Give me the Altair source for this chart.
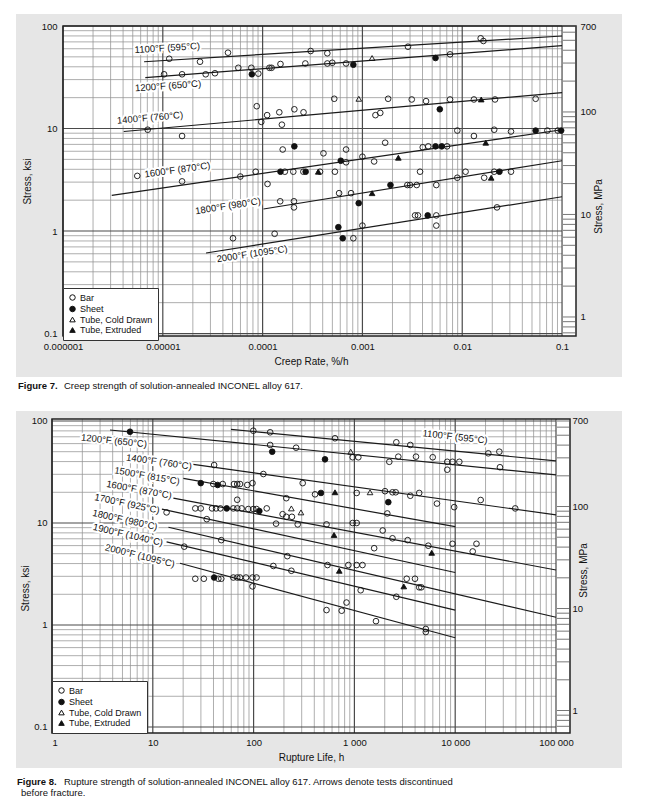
import math
import altair as alt
import pandas as pd

FONT = "Liberation Sans"
KSI_TO_MPA = 6.895
PANEL_GRAY = "#e6e6e6"

SPECIMEN_TYPES = ["Bar", "Sheet", "Tube, Cold Drawn", "Tube, Extruded"]
SPECIMEN_SHAPES = ["circle", "circle", "triangle-up", "triangle-up"]
SPECIMEN_FILLS = ["transparent", "#111111", "transparent", "#111111"]
SPECIMEN_STROKES = ["#111111", "#111111", "#111111", "#111111"]

# ---------------- Figure 7: creep rate (%/h) vs stress (ksi) ----------------
f7_bar = [
    (1.16e-5, 47.9), (2.36e-5, 44.8), (4.5e-5, 54.9), (3.03e-4, 57.0), (4.45e-4, 54.2),
    (2.86e-3, 62.8), (1.53e-2, 75.9), (1.63e-2, 71.4),
    (1.03e-5, 33.8), (1.56e-5, 33.8), (2.69e-5, 33.8), (3.33e-5, 34.6), (5.71e-5, 39.1),
    (7.71e-5, 39.1), (9.06e-5, 34.3), (1.17e-4, 39.1), (1.23e-4, 39.1), (1.51e-4, 42.6),
    (2.68e-4, 43.1), (4.45e-4, 43.1), (4.99e-4, 43.8), (6.86e-4, 43.1), (7.55e-3, 52.9),
    (7.06e-6, 9.73), (1.56e-5, 8.45), (8.73e-5, 16.5), (1.11e-4, 13.5), (9.7e-5, 11.6),
    (1.47e-4, 14.4), (1.56e-4, 10.9), (2.08e-4, 15.4), (2.57e-4, 14.4), (5.22e-4, 19.5),
    (1.81e-3, 19.5), (3.12e-3, 19.2), (4.34e-3, 18.5), (7.55e-3, 19.2), (1.31e-2, 19.2),
    (2.13e-2, 19.2), (5.44e-2, 19.5), (1.35e-3, 13.5), (1.51e-3, 14.2),
    (4.07e-4, 5.73), (1.59e-4, 6.24), (6.86e-4, 4.68), (6.86e-4, 6.24), (1.0e-3, 5.31),
    (1.31e-3, 4.77), (1.69e-3, 7.27), (4.02e-3, 6.56), (4.57e-3, 6.7), (7.05e-3, 6.7),
    (8.93e-3, 9.55), (1.31e-2, 8.45), (2.09e-2, 9.73), (3.08e-2, 9.35), (7.13e-2, 9.55),
    (9.06e-2, 9.55),
    (5.55e-6, 3.45), (1.56e-5, 3.05), (5.98e-5, 3.40), (8.53e-5, 3.79), (1.12e-4, 2.88),
    (1.67e-4, 3.79), (2.03e-4, 3.79), (2.56e-4, 3.79), (3.76e-4, 3.79), (5.3e-4, 3.79),
    (3.78e-3, 3.79),
    (1.50e-4, 1.95), (2.06e-4, 1.95), (2.06e-4, 1.70), (5.84e-4, 2.34), (7.69e-4, 2.34),
    (2.82e-3, 2.81), (3.0e-3, 2.81), (3.5e-3, 2.81), (5.5e-3, 2.81), (8.93e-3, 3.31),
    (1.08e-2, 3.79), (1.66e-2, 3.31), (2.09e-2, 3.79), (3.08e-2, 3.79),
    (5.05e-5, 0.85), (1.32e-4, 0.94), (8.11e-4, 0.85), (1.0e-3, 1.13), (3.37e-3, 1.42),
    (3.6e-3, 1.42), (5.5e-3, 1.42), (5.5e-3, 1.13), (2.23e-2, 1.70),
]
f7_sheet = [
    (7.8e-5, 33.8), (8.11e-4, 41.9), (5.4e-3, 48.7), (5.96e-3, 15.4), (2.08e-4, 6.7),
    (6.07e-4, 4.85), (5.4e-3, 6.7), (6.24e-3, 6.7), (5.44e-2, 9.55), (9.8e-2, 9.55),
    (1.51e-4, 3.79), (2.7e-4, 3.79), (9.18e-4, 1.87), (1.91e-3, 2.81), (2.36e-2, 3.79),
    (5.74e-4, 1.09), (6.35e-4, 0.85), (4.51e-3, 1.42),
]
f7_tube_cold = [(1.25e-3, 48.7), (9.2e-4, 19.5)]
f7_tube_ext = [(1.55e-2, 19.2), (2.29e-3, 5.19), (1.72e-2, 7.27), (3.61e-4, 3.79),
               (1.25e-3, 2.34), (1.95e-2, 3.31)]

f7_temps = ["1100°F (595°C)", "1200°F (650°C)", "1400°F (760°C)",
            "1600°F (870°C)", "1800°F (980°C)", "2000°F (1095°C)"]
f7_line_x1 = [6.5e-6, 6.68e-6, 4.06e-6, 3.08e-6, 1.02e-4, 2.71e-5]
f7_line_y1 = [44.8, 31.3, 9.35, 2.23, 1.64, 0.61]
f7_line_x2 = [0.1, 0.1, 0.1, 0.1, 0.1, 0.1]
f7_line_y2 = [79.9, 64.3, 22.4, 9.73, 4.85, 2.16]
f7_label_x = [1.11e-5, 1.13e-5, 7.45e-6, 1.40e-5, 4.5e-5, 7.84e-5]
f7_label_y = [61.0, 26.0, 12.7, 3.94, 1.75, 0.597]
f7_label_angle = [356.5, 356, 355, 352, 351, 351.5]

# ---------------- Figure 8: rupture life (h) vs stress (ksi) ----------------
f8_bar = [
    (99.3, 80.3), (146, 77.5), (642, 67.7), (2606, 61.8), (3586, 58.2), (21300, 48.2),
    (27400, 50.0),
    (146, 58.2), (264, 54.7), (962, 44.1), (1094, 44.1), (2220, 39.8), (2727, 44.7),
    (4084, 44.7), (5984, 44.1), (8337, 39.8), (9403, 39.8), (10990, 39.8), (8337, 33.3),
    (27800, 35.2),
    (40.6, 37.0), (125, 30.2), (307, 24.6), (39.8, 24.1), (49.4, 24.1), (63.9, 24.1),
    (68.8, 24.1), (73.3, 24.1), (86.6, 23.6), (97.5, 24.6), (407, 19.1), (1054, 19.7),
    (2013, 20.5), (2388, 20.0), (2569, 20.0), (3586, 18.5), (4395, 19.7), (6593, 15.5),
    (9772, 14.3), (17900, 16.8), (39400, 13.9),
    (211, 17.5), (68.8, 16.9), (26.4, 13.9), (29.9, 13.9), (38.7, 13.9), (42.4, 13.9),
    (46.8, 13.9), (62.9, 13.9), (68.8, 13.9), (76.2, 13.9), (88.6, 13.7), (99.3, 13.7),
    (107, 13.7), (135, 13.9), (194, 12.2), (211, 11.5), (240, 11.5), (167, 9.85),
    (274, 9.69), (529, 9.69), (2120, 12.4), (13.7, 12.7), (34.3, 10.9),
    (962, 10.0), (1054, 10.0), (1910, 8.44), (2388, 7.08), (3378, 6.79), (5408, 5.99),
    (9403, 6.25), (16260, 6.25), (14920, 5.26), (1571, 5.66), (47.8, 6.79), (20.5, 5.86),
    (216, 4.73), (157, 3.79), (237, 3.40), (541, 3.87), (871, 3.87), (1054, 3.87),
    (1203, 3.87), (1154, 2.19), (2606, 1.89), (3302, 2.84), (3992, 2.84), (4395, 2.34),
    (4612, 2.34),
    (26.4, 2.84), (32.1, 2.84), (44.7, 2.84), (47.8, 2.84), (62.9, 2.92), (68.8, 2.92),
    (73.3, 2.92), (84.1, 2.92), (97.5, 2.92), (107, 2.92), (97.5, 2.39),
    (529, 1.40), (748, 1.38), (835, 1.66), (1637, 1.09), (5108, 0.914), (5108, 0.853),
]
f8_sheet = [(5.94, 78.5), (153, 50.0), (511, 42.1), (29.9, 24.6), (44.0, 23.6),
            (466, 19.7), (54.1, 13.9), (114, 13.1), (2170, 16.0), (40.6, 2.92)]
f8_tube_cold = [(237, 13.9), (295, 12.7), (919, 50.0), (1429, 20.0)]
f8_tube_ext = [(642, 20.0), (628, 7.63), (5848, 5.10), (708, 3.40), (3090, 2.39)]

f8_temps = ["1100°F (595°C)", "1200°F (650°C)", "1400°F (760°C)", "1500°F (815°C)",
            "1600°F (870°C)", "1700°F (925°C)", "1800°F (980°C)", "1900°F (1040°C)",
            "2000°F (1095°C)"]
f8_line_x1 = [59.7, 3.76, 25.2, 20.1, 16.0, 12.3, 14.3, 13.7, 18.6]
f8_line_y1 = [82.9, 81.6, 37.6, 27.4, 17.5, 13.7, 9.08, 6.54, 4.03]
f8_line_x2 = [1e5, 1e5, 1e5, 1e4, 1e5, 1e4, 1e5, 1e4, 1e4]
f8_line_y2 = [40.6, 29.6, 12.0, 9.2, 3.46, 3.27, 1.19, 1.40, 0.75]
f8_label_x = [9960, 4.12, 11.5, 8.76, 7.3, 5.55, 5.3, 5.68, 7.46]
f8_label_y = [69.7, 63.7, 39.6, 28.9, 21.1, 15.4, 10.7, 7.63, 4.75]
f8_label_angle = [6.5, 6, 8, 10, 10.5, 12, 12.5, 13, 14]

f7_x_labels = [1e-6, 1e-5, 1e-4, 1e-3, 1e-2, 1e-1]
f8_x_labels = [1, 10, 100, 1000, 10000, 100000]
ksi_labels = [0.1, 1, 10, 100]
mpa_labels = [1, 10, 100, 689.5]


def points_frame(bar, sheet, cold, ext):
    rows = []
    for name, pts in zip(SPECIMEN_TYPES, [bar, sheet, cold, ext]):
        for x, y in pts:
            rows.append({"x": x, "y": y, "type": name})
    return pd.DataFrame(rows)


def is_decade(v):
    lv = math.log10(v)
    return abs(round(lv) - lv) < 1e-9


def panel(p):
    W, H, X0 = p["W"], p["H"], p["x0"]
    xdom, ydom = p["xdom"], p["ydom"]
    xs = alt.Scale(type="log", domain=xdom, nice=False)
    ys = alt.Scale(type="log", domain=ydom, nice=False)
    ms = alt.Scale(type="log", domain=[ydom[0] * KSI_TO_MPA, ydom[1] * KSI_TO_MPA], nice=False)

    xaxis = alt.Axis(values=p["xlabels"], labelExpr=p["xexpr"], title=p["xtitle"],
                     ticks=False, domain=False, grid=False, labelFlush=p["flush"],
                     labelPadding=p["xlabpad"], titlePadding=p["xtitpad"], titleX=p["titleX"],
                     zindex=1)
    yaxis = alt.Axis(values=ksi_labels, labelExpr="format(datum.value, '~g')",
                     title="Stress, ksi", orient="left", ticks=False, domain=False,
                     grid=False, labelPadding=p["ylabpad"], titlePadding=p["ytitpad"],
                     titleY=p["ytitleY"], offset=-X0, zindex=1)
    maxis = alt.Axis(values=mpa_labels,
                     labelExpr="datum.value > 600 ? '700' : format(datum.value, 'd')",
                     title="Stress, MPa", orient="right", ticks=False, domain=False,
                     grid=False, labelPadding=p["mlabpad"], titlePadding=p["mtitpad"],
                     titleAngle=270, titleY=p["mtitleY"], zindex=1)

    def X(f):
        return alt.X(f, type="quantitative", scale=xs, axis=xaxis)

    def Y(f):
        return alt.Y(f, type="quantitative", scale=ys, axis=yaxis)

    one = pd.DataFrame({"k": [0]})
    gl, gr, gt, gb = p["gray"]
    bg = alt.Chart(one).mark_rect(fill=PANEL_GRAY).encode(
        x=alt.value(-gl), x2=alt.value(W + gr), y=alt.value(-gt), y2=alt.value(H + gb))
    plotbg = alt.Chart(one).mark_rect(fill="white").encode(
        x=alt.value(X0), x2=alt.value(W), y=alt.value(0), y2=alt.value(H))

    xd0, xd1 = p["xdec"]
    vx = [m * 10.0 ** d for d in range(xd0, xd1) for m in range(1, 10)] + [p["xlast"]]
    vmaj = [v for v in vx if is_decade(v)]
    vmin = [v for v in vx if not is_decade(v)]
    hy = [m * 10.0 ** d for d in range(-1, 2) for m in range(1, 10)] + [100.0]
    hmaj = [v for v in hy if is_decade(v)]
    hmin = [v for v in hy if not is_decade(v)]

    def vgrid(vals, color, w):
        df = pd.DataFrame({"gx": vals, "y1": ydom[0], "y2": ydom[1]})
        return alt.Chart(df).mark_rule(color=color, strokeWidth=w).encode(
            x=X("gx"), y=Y("y1"), y2="y2")

    def hgrid(vals, color, w):
        df = pd.DataFrame({"gy": vals, "x1": p["xfirst"], "x2": p["xlast"]})
        return alt.Chart(df).mark_rule(color=color, strokeWidth=w).encode(
            y=Y("gy"), x=X("x1"), x2="x2")

    lines_df = pd.DataFrame({"x1": p["lx1"], "y1": p["ly1"], "x2": p["lx2"], "y2": p["ly2"]})
    lines = alt.Chart(lines_df).mark_rule(color="#1a1a1a", strokeWidth=1.2).encode(
        x=X("x1"), x2="x2", y=Y("y1"), y2="y2")

    lab_df = pd.DataFrame({"x": p["labx"], "y": p["laby"], "t": p["temps"], "a": p["laba"]})
    halo = alt.Chart(lab_df).mark_text(font=FONT, fontSize=9.5, fill="white", stroke="white",
                                       strokeWidth=4, align="center", baseline="middle").encode(
        x=X("x"), y=Y("y"), text="t:N", angle=alt.Angle("a:Q", scale=None))
    labels = alt.Chart(lab_df).mark_text(font=FONT, fontSize=9.5, fill="#111111",
                                         align="center", baseline="middle").encode(
        x=X("x"), y=Y("y"), text="t:N", angle=alt.Angle("a:Q", scale=None))

    leg = alt.Legend(title=None, padding=5, strokeColor="#333333", fillColor="white",
                     labelFont=FONT, labelFontSize=9, labelColor="#111111", symbolSize=30,
                     symbolStrokeWidth=1, rowPadding=0.5, labelOffset=3, zindex=1,
                     **p["legpos"])
    pts = alt.Chart(p["points"]).mark_point(filled=True, strokeWidth=0.9,
                                             size=32, opacity=1).encode(
        x=X("x"), y=Y("y"),
        shape=alt.Shape("type:N", scale=alt.Scale(domain=SPECIMEN_TYPES, range=SPECIMEN_SHAPES), legend=leg),
        fill=alt.Fill("type:N", scale=alt.Scale(domain=SPECIMEN_TYPES, range=SPECIMEN_FILLS), legend=leg),
        stroke=alt.Stroke("type:N", scale=alt.Scale(domain=SPECIMEN_TYPES, range=SPECIMEN_STROKES), legend=leg))

    frame = alt.Chart(one).mark_rect(fillOpacity=0, stroke="#222222", strokeWidth=1.5).encode(
        x=alt.value(X0), x2=alt.value(W), y=alt.value(0), y2=alt.value(H))

    caps = []
    for (txt, cx, cy, bold) in p["captions"]:
        caps.append(alt.Chart(one).mark_text(text=txt, font=FONT, fontSize=9.5,
                                             fontWeight="bold" if bold else "normal",
                                             align="left", baseline="middle",
                                             color="#111111").encode(
            x=alt.value(cx), y=alt.value(cy)))

    ksi = alt.layer(bg, plotbg,
                    vgrid(vmin, "#939393", 0.75), hgrid(hmin, "#939393", 0.75),
                    vgrid(vmaj, "#4a4a4a", 1.2), hgrid(hmaj, "#4a4a4a", 1.2),
                    lines, halo, labels, pts, frame, *caps)

    mt = [0.7, 0.8, 0.9] + [m * 10.0 ** d for d in range(0, 3) for m in range(1, 10) if m * 10.0 ** d <= 600] + [689.5]
    mdf = pd.DataFrame({"mpa": mt})
    mticks = alt.Chart(mdf).mark_rule(color="#555555", strokeWidth=0.8).encode(
        x=alt.value(W - 13), x2=alt.value(W),
        y=alt.Y("mpa", type="quantitative", scale=ms, axis=maxis))

    return alt.layer(ksi, mticks).resolve_scale(y="independent").properties(width=W, height=H)


f7 = dict(
    W=524, H=310, x0=11, xdom=[7.76e-7, 0.138], ydom=[0.0946, 100], xdec=(-6, -1),
    xfirst=1e-6, xlast=0.1,
    xlabels=f7_x_labels, xexpr="format(datum.value, '.6~f')", xtitle="Creep Rate, %/h",
    flush=False, xlabpad=5, xtitpad=6, titleX=259, ylabpad=6, ytitpad=9, ytitleY=155,
    mlabpad=4, mtitpad=8, mtitleY=180, gray=(36, 46, 12, 41),
    legpos=dict(orient="none", legendX=11, legendY=262),
    points=points_frame(f7_bar, f7_sheet, f7_tube_cold, f7_tube_ext),
    lx1=f7_line_x1, ly1=f7_line_y1, lx2=f7_line_x2, ly2=f7_line_y2,
    labx=f7_label_x, laby=f7_label_y, laba=f7_label_angle, temps=f7_temps,
    captions=[("Figure 7.", -34, 360, True),
              ("Creep strength of solution-annealed INCONEL alloy 617.", 12, 360, False)],
)
f8 = dict(
    W=518, H=314, x0=0, xdom=[1, 1.377e5], ydom=[0.0873, 104.6], xdec=(0, 5),
    xfirst=1, xlast=1e5,
    xlabels=f8_x_labels, xexpr="replace(format(datum.value, ','), ',', ' ')",
    xtitle="Rupture Life, h", flush=True, xlabpad=4, xtitpad=6, titleX=259,
    ylabpad=5, ytitpad=1, ytitleY=169, mlabpad=2, mtitpad=1, mtitleY=151,
    gray=(36, 52, 8, 35),
    legpos=dict(orient="bottom-left", offset=0),
    points=points_frame(f8_bar, f8_sheet, f8_tube_cold, f8_tube_ext),
    lx1=f8_line_x1, ly1=f8_line_y1, lx2=f8_line_x2, ly2=f8_line_y2,
    labx=f8_label_x, laby=f8_label_y, laba=f8_label_angle, temps=f8_temps,
    captions=[("Figure 8.", -35, 362.7, True),
              ("Rupture strength of solution-annealed INCONEL alloy 617.  Arrows denote tests discontinued",
               12, 362.7, False),
              ("before fracture.", -31, 373.5, False)],
)

chart = alt.vconcat(panel(f7), panel(f8), spacing=20).resolve_scale(
    shape="independent", fill="independent", stroke="independent"
).resolve_legend(
    shape="independent", fill="independent", stroke="independent"
).properties(
    padding={"left": 8, "top": 6, "right": 5, "bottom": 5}
).configure_view(strokeWidth=0).configure_axis(
    labelFont=FONT, titleFont=FONT, labelFontSize=9.5, titleFontSize=10,
    titleFontWeight="normal", labelColor="#111111", titleColor="#111111"
)

chart.save("out.html", embed_options={"renderer": "svg", "actions": False})
